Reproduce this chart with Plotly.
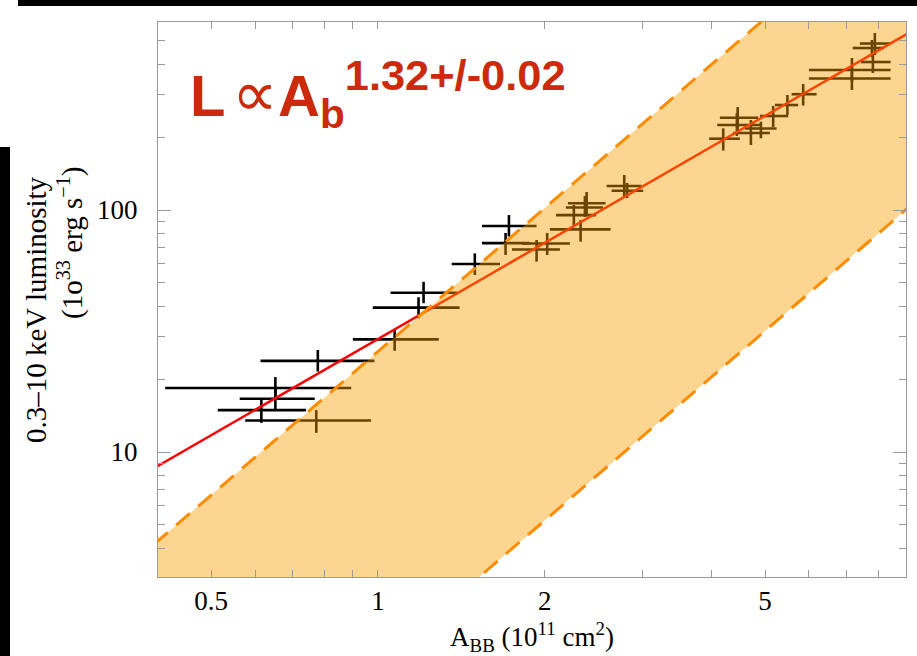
import numpy as np
import plotly.graph_objects as go

# ---------------- data ----------------
# blackbody area A_BB in 1e11 cm^2, luminosity in 1e33 erg/s
A_bb = [1.209, 1.184, 1.072, 0.779, 0.653, 0.653, 0.616, 0.774,
        1.496, 1.724, 1.700, 1.934, 2.021, 2.322, 2.258, 2.364, 2.381, 2.784, 2.818,
        4.201, 4.461, 4.446, 4.713, 4.913, 5.170, 5.485, 5.857,
        7.172, 7.172, 7.825, 7.793, 7.889]
A_lo = [1.054, 0.979, 0.901, 0.614, 0.413, 0.563, 0.514, 0.576,
        1.359, 1.541, 1.541, 1.746, 1.820, 2.044, 2.096, 2.184, 2.203, 2.587, 2.642,
        3.963, 4.143, 4.097, 4.373, 4.597, 4.893, 5.207, 5.583,
        5.998, 5.998, 7.445, 7.193, 7.413]
A_hi = [1.390, 1.404, 1.288, 0.986, 0.895, 0.769, 0.742, 0.972,
        1.661, 1.934, 1.881, 2.131, 2.221, 2.630, 2.475, 2.548, 2.576, 2.992, 3.012,
        4.501, 4.859, 4.893, 5.100, 5.244, 5.503, 5.737, 6.193,
        8.423, 8.423, 8.423, 8.192, 8.433]
lum = [45.5, 39.5, 29.2, 23.8, 18.4, 16.6, 14.9, 13.5,
       59.8, 85.9, 73.0, 68.7, 72.7, 83.2, 95.3, 102.4, 106.6, 125.7, 120.2,
       197.1, 240.7, 224.5, 208.1, 217.2, 244.6, 271.6, 301.0,
       349.5, 378.9, 408.9, 467.1, 487.5]
lum_lo = [41.2, 35.7, 26.2, 21.5, 16.6, 15.0, 13.2, 12.0,
          53.9, 77.7, 65.2, 61.2, 65.2, 74.0, 85.9, 93.6, 96.3, 113.2, 112.1,
          176.1, 214.1, 202.2, 185.6, 197.9, 220.3, 246.9, 270.3,
          313.3, 338.0, 368.3, 428.8, 437.1]
lum_hi = [50.5, 43.6, 32.1, 26.4, 20.4, 18.4, 16.7, 14.9,
          66.2, 95.3, 80.4, 75.2, 80.4, 90.9, 104.9, 114.2, 118.7, 139.5, 129.3,
          217.6, 266.5, 251.7, 235.5, 231.7, 269.0, 298.7, 331.6,
          393.6, 424.8, 449.7, 504.2, 538.8]

# power-law fit and band
FIT_NORM, FIT_INDEX = 29.3, 1.32
BAND_INDEX = 1.97
BAND_HI_NORM, BAND_LO_NORM = 26.0, 1.33

X_TICKS = [0.5, 1, 2, 5]
X_TICKTEXT = ["0.5", "1", "2", "5"]
Y_TICKS = [10, 100]
Y_TICKTEXT = ["10", "100"]
X_MINOR = [0.4, 0.6, 0.7, 0.8, 0.9, 3, 4, 6, 7, 8, 9]
Y_MINOR = [3, 4, 5, 6, 7, 8, 9, 20, 30, 40, 50, 60, 70, 80, 90, 200, 300, 400, 500]

Y_TITLE_1 = "0.3–10 keV luminosity"
Y_TITLE_2 = "(1o<sup>33</sup> erg s<sup>−1</sup>)"
X_TITLE = "A<sub>BB</sub> (10<sup>11</sup> cm<sup>2</sup>)"

# ---------------- figure ----------------
W, H = 917, 656
ML, MR, MT, MB = 158, 11, 22, 79
PW, PH = W - ML - MR, H - MT - MB


def px_x(px):
    return (px - ML) / PW


def px_y(py):
    return (H - MB - py) / PH


fig = go.Figure()

A = np.array(A_bb)
Lm = np.array(lum)
fig.add_trace(go.Scatter(
    x=A_bb, y=lum, mode="markers",
    marker=dict(size=2, color="black"),
    error_x=dict(type="data", symmetric=False,
                 array=list(np.array(A_hi) - A), arrayminus=list(A - np.array(A_lo)),
                 color="black", thickness=2.6, width=0),
    error_y=dict(type="data", symmetric=False,
                 array=list(np.array(lum_hi) - Lm), arrayminus=list(Lm - np.array(lum_lo)),
                 color="black", thickness=2.6, width=0),
    hoverinfo="skip",
))

grid = np.geomspace(0.3, 12, 60)
fig.add_trace(go.Scatter(x=grid, y=FIT_NORM * grid ** FIT_INDEX, mode="lines",
                         line=dict(color="#ff0000", width=2.5), hoverinfo="skip"))

hi = BAND_HI_NORM * grid ** BAND_INDEX
lo = BAND_LO_NORM * grid ** BAND_INDEX
fig.add_trace(go.Scatter(x=list(grid) + list(grid[::-1]), y=list(hi) + list(lo[::-1]),
                         mode="none", fill="toself", fillcolor="rgba(249,158,0,0.43)",
                         hoverinfo="skip"))
for band in (hi, lo):
    fig.add_trace(go.Scatter(x=grid, y=band, mode="lines",
                             line=dict(color="#ff8c00", width=3, dash="18px,11px"),
                             hoverinfo="skip"))

axis_common = dict(
    type="log", showgrid=False, zeroline=False,
    showline=True, linecolor="#9a9a9a", linewidth=1, mirror="allticks",
    ticks="inside", tickcolor="#9a9a9a", tickwidth=1,
    tickfont=dict(family="Liberation Serif", size=27, color="black"),
)

fig.update_xaxes(
    **axis_common,
    range=[np.log10(0.4009), np.log10(8.98)],
    tickvals=X_TICKS, ticktext=X_TICKTEXT, ticklen=7,
    minor=dict(tickvals=X_MINOR, ticks="inside", ticklen=7, tickcolor="#9a9a9a", tickwidth=1),
    ticklabelstandoff=0,
    title=dict(text=X_TITLE,
               font=dict(family="Liberation Serif", size=27, color="black"), standoff=13),
)
fig.update_yaxes(
    **axis_common,
    range=[0.4835, 2.777],
    tickvals=Y_TICKS, ticktext=Y_TICKTEXT, ticklen=13,
    minor=dict(tickvals=Y_MINOR, ticks="inside", ticklen=7, tickcolor="#9a9a9a", tickwidth=1),
    ticklabelstandoff=14,
)

shapes = []
# longer major tick at x = 1 (bottom and top)
for y0, y1 in ((0, 13 / PH), (1 - 13 / PH, 1)):
    shapes.append(dict(type="line", xref="x", yref="paper", x0=0, x1=0, y0=y0, y1=y1,
                       line=dict(color="#9a9a9a", width=1)))
# black frame remnants of the original screenshot
shapes.append(dict(type="rect", xref="paper", yref="paper", layer="above",
                   x0=px_x(18), x1=px_x(917), y0=px_y(6), y1=px_y(0),
                   fillcolor="black", line=dict(width=0)))
shapes.append(dict(type="rect", xref="paper", yref="paper", layer="above",
                   x0=px_x(0), x1=px_x(10), y0=px_y(656), y1=px_y(147),
                   fillcolor="black", line=dict(width=0)))

label = ("<b>L</b><span style='font-size:24px'> </span>"
         "<span style='font-size:64px'>∝</span>"
         "<b>A</b><sub><b>b</b></sub>"
         "<span style='font-size:62px'><sup><b>1.32+/-0.02</b></sup></span>")

serif = dict(family="Liberation Serif", size=29, color="black")
fig.update_layout(
    width=W, height=H,
    margin=dict(l=ML, r=MR, t=MT, b=MB, autoexpand=False),
    paper_bgcolor="white", plot_bgcolor="white",
    showlegend=False,
    shapes=shapes,
    annotations=[
        dict(xref="paper", yref="paper", x=px_x(188), y=px_y(94),
             xanchor="left", yanchor="middle", showarrow=False, text=label,
             font=dict(family="Liberation Sans", size=58, color="#cb2a0c")),
        dict(xref="paper", yref="paper", x=px_x(36), y=px_y(309),
             xanchor="center", yanchor="middle", showarrow=False, textangle=-90,
             text=Y_TITLE_1, font=serif),
        dict(xref="paper", yref="paper", x=px_x(70), y=px_y(243),
             xanchor="center", yanchor="middle", showarrow=False, textangle=-90,
             text=Y_TITLE_2, font=serif),
    ],
)

fig.write_html("out.html")
